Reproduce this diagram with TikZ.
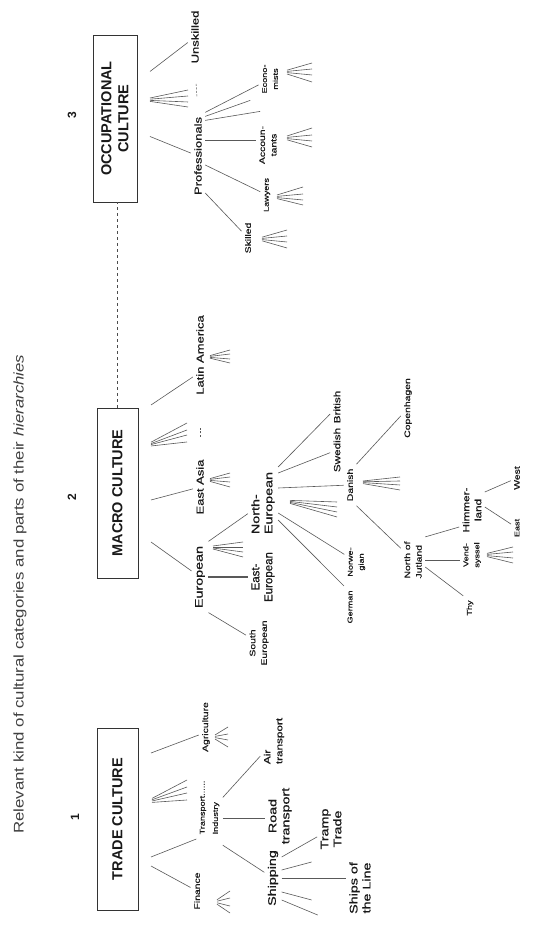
\documentclass[tikz,border=0pt]{standalone}
\usepackage{fontspec}
\setmainfont{Liberation Sans}
\newfontfamily\labfont{Liberation Sans}[FakeBold=0.7]
\newcommand{\fanlines}[4]{\foreach \d in {#3} \draw[br] (#1+0.2*\d,#2) -- (#1+\d,#2-#4);}
\begin{document}
\begin{tikzpicture}[x=1pt,y=1pt,rotate=90,transform shape,
  every node/.style={text=black!90},
  box/.style={draw=black!80,line width=0.9pt,font=\fontsize{14.5}{17}\selectfont\bfseries,align=center,minimum height=41pt,outer ysep=13pt},
  num/.style={font=\fontsize{12}{12}\selectfont\bfseries},
  lbx/.style={font=\labfont\fontsize{11}{13}\selectfont,xscale=1.3},
  lbl/.style={font=\labfont\fontsize{10}{12.5}\selectfont,xscale=1.3},
  lbm/.style={font=\labfont\fontsize{9}{12}\selectfont,xscale=1.3},
  lbs/.style={font=\labfont\fontsize{8}{11.5}\selectfont,xscale=1.3},
  lbt/.style={font=\labfont\fontsize{7}{11}\selectfont,xscale=1.3},
  ee/.style={font=\labfont\fontsize{11.5}{13}\selectfont},
  br/.style={draw=black!65,line width=0.6pt},
  dots/.style={br,dash pattern=on 2pt off 1.5pt}]
  \useasboundingbox (0,0) rectangle (932,-551); \fill[white] (0,0) rectangle (932,-551);
  \node[anchor=west,font=\fontsize{14}{16}\selectfont,xscale=1.2,text=black!75] (title) at (94,-20) {Relevant kind of cultural categories and parts of their \emph{hierarchies}};
  \node[num] (one) at (115,-75) {1}; \node[num] (two) at (435,-72) {2}; \node[num] (three) at (817,-72) {3};
  \node[box,minimum width=182pt] (trade) at (113,-117.5) {TRADE CULTURE};
  \node[box,minimum width=170pt] (macro) at (439,-117.5) {MACRO CULTURE};
  \node[box,minimum width=167pt,minimum height=44pt] (occ) at (813.5,-115) {OCCUPATIONAL\\CULTURE};
  \draw[dashed,line width=1pt,black!70] (macro.east) -- (occ.west |- macro.east);
  % trade culture
  \node[lbs] (finance) at (41,-197) {Finance};
  \node[lbt,anchor=west] (transport) at (93,-203) {Transport......};
  \node[lbt,anchor=west] (industry) at (93,-216) {Industry};
  \node[lbs] (agri) at (205,-206) {Agriculture};
  \node[lbm,align=left] (air) at (191,-274) {Air\\transport};
  \node[lbx,align=center] (road) at (116,-280) {Road\\transport};
  \node[lbx] (ship) at (54,-273) {Shipping};
  \node[lbx,align=center] (tramp) at (103,-331) {Tramp\\Trade};
  \node[lbx,align=center] (sotl) at (44,-360) {Ships of\\the Line};
  \draw[br] ([xshift=-47pt]trade.south) -- (finance); \draw[br] ([xshift=-38pt]trade.south) -- (transport.north west);
  \fanlines{129}{-152}{3,10,16,23}{35}
  \draw[br] ([xshift=66pt]trade.south) -- ([xshift=-8pt]agri.north);
  \draw[br] (industry.south east) -- (air); \draw[br,line width=1.2pt] (industry.south) -- (industry.south |- road.north);
  \draw[br] ([xshift=-27pt]industry.south) -- (ship);
  \draw[br] ([xshift=21pt]ship.south) -- (tramp); \draw[br] ([xshift=8pt]ship.south) -- ++(8,-30);
  \draw[br] (ship.south) -- (ship.south |- sotl.north);
  \draw[br] ([xshift=-14pt]ship.south) -- ++(-8,-30); \draw[br] ([xshift=-22pt]ship.south) -- ++(-15,-36);
  \fanlines{30}{-217}{-11,-4,4,11}{13} \fanlines{195}{-215}{-10,-3,3,10}{13}
  % macro culture
  \node[lbx] (european) at (355,-200) {European};
  \node[lbl] (eastasia) at (445,-200) {East Asia};
  \node[lbl] (latin) at (577,-200) {Latin America};
  \node[lbx,align=left] (north) at (429,-263) {North-\\European};
  \node[ee,align=center] (eeur) at (355,-263) {East-\\European};
  \node[lbs,align=center] (seur) at (289,-259) {South\\European};
  \node[lbm] (swed) at (482,-337) {Swedish}; \node[lbm] (brit) at (525,-337) {British};
  \node[lbs] (danish) at (447,-350) {Danish};
  \node[lbt] (german) at (325,-350) {German};
  \node[lbt,align=center] (norw) at (370,-356.5) {Norwe-\\gian};
  \node[lbs] (copen) at (524,-408) {Copenhagen};
  \node[lbs,align=left] (northj) at (372,-413) {North of\\Jutland};
  \node[lbm,align=center] (himmer) at (422,-472) {Himmer-\\land};
  \node[lbt,align=center] (vend) at (377,-472) {Vend-\\syssel};
  \node[lbt] (thy) at (324,-470) {Thy};
  \node[lbs] (west) at (454,-517) {West}; \node[lbt] (east) at (404,-517) {East};
  \draw[br] ([xshift=-49pt]macro.south) -- (european); \draw[br] ([xshift=-7pt]macro.south) -- (eastasia);
  \fanlines{485}{-151}{5,12,17,24}{36}
  \draw[br] ([xshift=88pt]macro.south) -- ([xshift=-22pt]latin.north);
  \draw[dots,shorten <=18pt,shorten >=28pt] (eastasia.east) -- (latin.west);
  \fanlines{452}{-210}{-7,-2,3,7}{20} \fanlines{575}{-210}{-6,-2,3,7}{20}
  \draw[br] (european.south east) -- (north); \fanlines{385}{-213}{-10,-5,0,5}{30}
  \draw[br,line width=1.2pt] (european.south) -- (european.south |- eeur.north);
  \draw[br] (european.south west) -- (seur);
  \draw[br] ([xshift=36pt]north.south) -- (brit); \draw[br] ([xshift=30pt]north.south) -- (swed);
  \draw[br] ([xshift=15pt]north.south) -- (danish); \fanlines{432}{-290}{-2,-7,-12,-17}{47}
  \draw[br] ([xshift=-10pt]north.south) -- (norw); \draw[br] ([xshift=-17pt]north.south) -- (german.north east);
  \draw[br] (danish.south east) -- (copen); \fanlines{450}{-363}{-8,-3,1,5}{37}
  \draw[br] (danish.south west) -- (northj);
  \draw[br] (northj.south east) -- ([xshift=10pt]himmer.north west);
  \draw[br] (northj.south) -- (northj.south |- vend.north); \draw[br] ([xshift=-7pt]northj.south) -- (thy.north east);
  \fanlines{377}{-487}{-8,-3,3,8}{26}
  \draw[br] ([xshift=18pt]himmer.south) -- (west); \draw[br] ([xshift=3pt]himmer.south) -- (east);
  % occupational culture
  \node[lbl] (prof) at (776,-198) {Professionals};
  \node[lbl] (unsk) at (895,-195) {Unskilled};
  \node[lbt,align=center] (econ) at (853,-270) {Econo-\\mists};
  \node[lbs,align=center] (acc) at (787,-268) {Accoun-\\tants};
  \node[lbt] (law) at (737,-267) {Lawyers};
  \node[lbs] (skill) at (694,-248) {Skilled};
  \draw[br] ([xshift=-18pt]occ.south) -- (prof); \fanlines{832}{-150}{-7,-2,4,10}{38}
  \draw[br] ([xshift=47pt]occ.south) -- (unsk);
  \draw[dots,shorten <=16pt,shorten >=15pt] (prof.east) -- (unsk.west);
  \draw[br] (prof.south east) -- (econ); \draw[br] ([xshift=-4pt]prof.south east) -- ++(16,-45);
  \draw[br] ([xshift=-8pt]prof.south east) -- ++(9,-55);
  \draw[br] ([xshift=16pt]prof.south) -- ([xshift=5pt]acc.north);
  \draw[br] ([xshift=-9pt]prof.south) -- (law); \draw[br] ([xshift=-37pt]prof.south) -- (skill);
  \fanlines{860}{-287}{-10,-3,3,9}{25} \fanlines{794}{-287}{-9,-3,3,10}{25}
  \fanlines{735}{-277}{-8,-3,3,10}{26} \fanlines{693}{-262}{-9,-3,3,9}{25}
\end{tikzpicture}
\end{document}
